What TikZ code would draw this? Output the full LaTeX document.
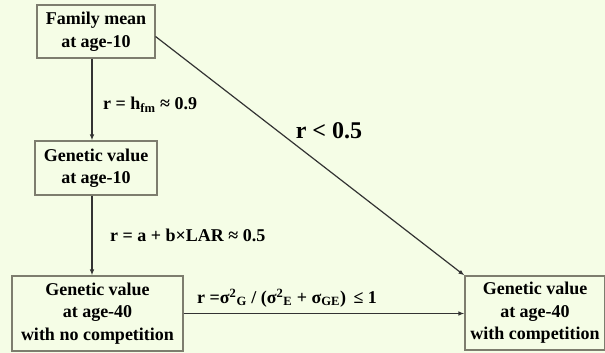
\documentclass[tikz,border=0pt]{standalone}
\usepackage{fontspec}
\setmainfont{Liberation Serif}
\usepackage{xcolor}
\usetikzlibrary{positioning,arrows.meta}
\definecolor{fundo}{RGB}{245,253,230}
\definecolor{borda}{RGB}{125,125,110}
\tikzset{
  caixa/.style={rectangle, draw=borda, fill=fundo, line width=1.1pt, align=center,
    inner sep=0pt, font=\fontsize{18}{22.5}\selectfont\bfseries},
  rotulo/.style={anchor=west, inner sep=0pt, font=\fontsize{18}{21}\selectfont\bfseries},
  seta/.style={-{Latex[length=6pt,width=4.5pt]}, line width=1.2pt, draw=black!80}
}
\begin{document}
\begin{tikzpicture}[x=1pt,y=-1pt]
\useasboundingbox (0,0) rectangle (605,353);
\fill[fundo] (0,0) rectangle (605,353);
\node[caixa, minimum width=118pt, minimum height=53pt] (fm10) at (96,31.5) {Family mean\\at age-10};
\node[caixa, minimum width=122pt, minimum height=54pt] (gv10) at (96,168) {Genetic value\\at age-10};
\node[caixa, minimum width=171pt, minimum height=75pt] (gv40n) at (97.5,313.5) {Genetic value\\at age-40\\with no competition};
\node[caixa, minimum width=140pt, minimum height=74pt] (gv40c) at (535,313) {Genetic value\\at age-40\\with competition};
\node[rotulo] (rh) at (103,105) {r = h\textsubscript{fm} ≈ 0.9};
\node[rotulo, anchor=center, font=\fontsize{24}{28}\selectfont\bfseries] (rd) at (329,131) {r < 0.5};
\node[rotulo] (rl) at (110,235) {r = a + b×LAR ≈ 0.5};
\node[rotulo] (rs) at (197,298) {r =σ\textsuperscript{2}\textsubscript{G} / (σ\textsuperscript{2}\textsubscript{E} + σ\textsubscript{GE})\, ≤ 1};
\draw[seta] ([xshift=-4pt]fm10.south) -- ([xshift=-4pt]gv10.north);
\draw[seta] ([xshift=-4pt]gv10.south) -- ([xshift=-4pt]gv10.south |- gv40n.north);
\draw[seta] (gv40n.east) -- (gv40n.east -| gv40c.west);
\draw[seta] ([yshift=-5pt]fm10.east) -- (gv40c.north west);
\end{tikzpicture}
\end{document}
